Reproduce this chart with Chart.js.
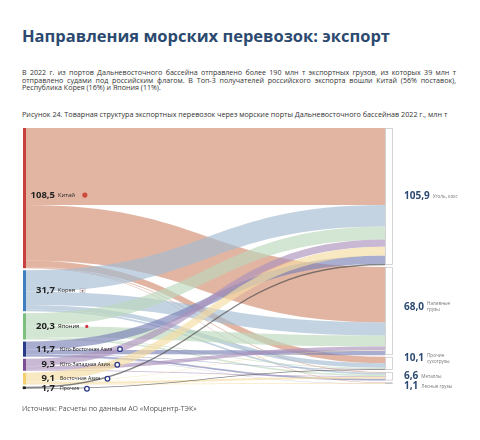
<!DOCTYPE html>
<html>
<head>
<meta charset="utf-8">
<script src="https://cdn.jsdelivr.net/npm/chart.js@4.4.0/dist/chart.umd.min.js"></script>
<style>
  body { margin: 0; width: 480px; height: 440px; background: #fff; font-family: "Open Sans", sans-serif; position: relative; overflow: hidden; }
  h1 { position: absolute; left: 22px; top: 24px; margin: 0; font-size: 16.5px; color: #2c4a70; font-weight: 700; white-space: nowrap; }
  .txt { position: absolute; left: 22px; width: 434px; font-size: 7.1px; line-height: 7.6px; color: #333; }
  .txt div { white-space: nowrap; }
  .txt .j { text-align: justify; text-align-last: justify; white-space: normal; }
  .cap { position: absolute; left: 22px; top: 109px; font-size: 7.2px; color: #333; white-space: nowrap; }
  .src { position: absolute; left: 22px; top: 404px; font-size: 7px; color: #555; white-space: nowrap; }
  canvas { position: absolute; left: 0; top: 0; }
</style>
</head>
<body>
<h1>Направления морских перевозок: экспорт</h1>
<div class="txt" style="top:69px">
  <div class="j">В 2022 г. из портов Дальневосточного бассейна отправлено более 190 млн т экспортных грузов, из которых 39 млн т</div>
  <div class="j">отправлено судами под российским флагом. В Топ-3 получателей российского экспорта вошли Китай (56% поставок),</div>
  <div>Республика Корея (16%) и Япония (11%).</div>
</div>
<div class="cap">Рисунок 24. Товарная структура экспортных перевозок через морские порты Дальневосточного бассейнав 2022 г., млн т</div>
<canvas id="sankey" width="480" height="440"></canvas>
<div class="src">Источник: Расчеты по данным АО «Морцентр-ТЭК»</div>

<script>
// countries (left side)
const sources = ['Китай', 'Корея', 'Япония', 'Юго-Восточная Азия', 'Юго-Западная Азия', 'Восточная Азия', 'Прочие'];
const sourceTotals = [108.5, 31.7, 20.3, 11.7, 9.3, 9.1, 1.7];

// cargo types (right side)
const targets = ['Уголь, кокс', 'Наливные грузы', 'Прочие сухогрузы', 'Металлы', 'Лесные грузы'];
const targetTotals = [105.9, 68.0, 10.1, 6.6, 1.1];

// flows, one value per country (same order as sources)
const toCoal     = [59.6, 16.7, 10.0, 6.3, 5.7, 6.7, 1.2];
const toLiquid   = [43.0, 10.1, 8.5, 3.5, 3.0, 0.2, 0];
const toOtherDry = [4.9, 3.5, 0.6, 0.3, 0, 0.3, 0.5];
const toMetals   = [0.6, 1.4, 1.2, 1.4, 0.6, 1.4, 0];
const toTimber   = [0.4, 0, 0, 0.2, 0, 0.5, 0];

const flows = [toCoal, toLiquid, toOtherDry, toMetals, toTimber];

// order in which countries stack up inside a cargo node
const arrivalOrder = [0, 1, 2, 4, 5, 3, 6];

const nodeColors = ['#c8413f', '#3f7fc0', '#7dbf7d', '#2b3a86', '#7b4f91', '#f3cf70', '#222'];
const flowColors = [
  'rgba(210,141,113,0.65)',
  'rgba(163,187,210,0.65)',
  'rgba(187,215,187,0.65)',
  'rgba(123,131,183,0.65)',
  'rgba(172,146,187,0.65)',
  'rgba(246,221,163,0.65)',
  'rgba(80,80,80,0.7)'
];
const GAP = 1.6;

function fmt(v) { return v.toFixed(1).replace('.', ','); }

function stackNodes(totals) {
  const starts = [];
  let acc = 0;
  totals.forEach(function(v) { starts.push(acc); acc += v + GAP; });
  return starts;
}

function drawIcon(ctx, i, x, y) {
  ctx.save();
  if (i === 0) {
    ctx.fillStyle = '#d04a3c';
    ctx.beginPath(); ctx.arc(x, y, 2.6, 0, Math.PI * 2); ctx.fill();
  } else if (i === 1) {
    ctx.fillStyle = '#fff'; ctx.strokeStyle = '#999'; ctx.lineWidth = 0.5;
    ctx.fillRect(x - 2.5, y - 1.8, 5, 3.6); ctx.strokeRect(x - 2.5, y - 1.8, 5, 3.6);
    ctx.fillStyle = '#c8413f';
    ctx.beginPath(); ctx.arc(x, y, 1, Math.PI, 0); ctx.fill();
    ctx.fillStyle = '#3f5fa0';
    ctx.beginPath(); ctx.arc(x, y, 1, 0, Math.PI); ctx.fill();
  } else if (i === 2) {
    ctx.fillStyle = '#d0303a';
    ctx.beginPath(); ctx.arc(x, y, 1.6, 0, Math.PI * 2); ctx.fill();
  } else {
    ctx.strokeStyle = '#2b3a86'; ctx.lineWidth = 1.3; ctx.fillStyle = '#fff';
    ctx.beginPath(); ctx.arc(x, y, 2.3, 0, Math.PI * 2); ctx.fill(); ctx.stroke();
  }
  ctx.restore();
}

const sankeyPlugin = {
  id: 'sankey',
  beforeDatasetsDraw(chart) {
    const ctx = chart.ctx;
    const x = chart.scales.x, y = chart.scales.y;
    const xL = x.getPixelForValue(0), xR = x.getPixelForValue(1);
    const x0 = xL + 2;
    const srcStart = stackNodes(sourceTotals);
    const tgtStart = stackNodes(targetTotals);

    // where each flow leaves its country and enters its cargo node
    const srcOff = srcStart.slice();
    const tgtOff = tgtStart.slice();
    const from = sources.map(function() { return []; });
    const to = sources.map(function() { return []; });
    sources.forEach(function(s, i) {
      flows.forEach(function(f, t) { from[i][t] = srcOff[i]; srcOff[i] += f[i]; });
    });
    flows.forEach(function(f, t) {
      arrivalOrder.forEach(function(i) { to[i][t] = tgtOff[t]; tgtOff[t] += f[i]; });
    });

    ctx.save();
    const xm = (x0 + xR) / 2;
    sources.forEach(function(s, i) {
      flows.forEach(function(f, t) {
        const v = f[i];
        if (!v) return;
        const a0 = y.getPixelForValue(from[i][t]), a1 = y.getPixelForValue(from[i][t] + v);
        const b0 = y.getPixelForValue(to[i][t]), b1 = y.getPixelForValue(to[i][t] + v);
        ctx.fillStyle = flowColors[i];
        ctx.beginPath();
        ctx.moveTo(x0, a0);
        ctx.bezierCurveTo(xm, a0, xm, b0, xR, b0);
        ctx.lineTo(xR, b1);
        ctx.bezierCurveTo(xm, b1, xm, a1, x0, a1);
        ctx.closePath();
        ctx.fill();
      });
    });

    // country bars
    sources.forEach(function(s, i) {
      const top = y.getPixelForValue(srcStart[i]);
      const bot = y.getPixelForValue(srcStart[i] + sourceTotals[i]);
      ctx.fillStyle = nodeColors[i];
      ctx.fillRect(xL - 1, top, 3, bot - top);
    });
    const oy = y.getPixelForValue(srcStart[6] + sourceTotals[6] / 2);
    ctx.fillStyle = '#222';
    ctx.beginPath(); ctx.arc(xL, oy, 1.5, 0, Math.PI * 2); ctx.fill();

    // cargo boxes
    targets.forEach(function(t, j) {
      const top = y.getPixelForValue(tgtStart[j]);
      const bot = y.getPixelForValue(tgtStart[j] + targetTotals[j]);
      ctx.fillStyle = j === 4 ? '#c4c4c4' : '#fff';
      ctx.fillRect(xR, top, 7, bot - top);
      ctx.strokeStyle = '#c9c9c9'; ctx.lineWidth = 0.8;
      ctx.strokeRect(xR + 0.4, top + 0.4, 7, bot - top - 0.8);
    });

    // country labels
    ctx.textBaseline = 'middle';
    sources.forEach(function(s, i) {
      const cy = y.getPixelForValue(srcStart[i] + sourceTotals[i] / 2) + (i === 6 ? 1 : 0) - (i === 0 ? 3 : 0);
      ctx.font = 'bold 9.5px "Open Sans"';
      ctx.fillStyle = '#222';
      ctx.textAlign = 'right';
      ctx.fillText(fmt(sourceTotals[i]), xL + 31, cy);
      ctx.font = (i < 3 ? 5.8 : 5.2) + 'px "Open Sans"';
      ctx.textAlign = 'left';
      const lx = xL + 34 + (i < 3 ? 0 : 2);
      ctx.fillText(s, lx, cy);
      const w = ctx.measureText(s).width;
      drawIcon(ctx, i, lx + w + (i === 0 ? 10 : 7.5), cy);
    });

    // cargo labels
    let lastY = -100;
    targets.forEach(function(t, j) {
      let cy = y.getPixelForValue(tgtStart[j] + targetTotals[j] / 2) - (j === 1 ? 4 : j === 2 ? 5 : 0);
      if (cy < lastY + 10) cy = lastY + 10;
      lastY = cy;
      const nx = xR + 19;
      ctx.font = 'bold 10px "Open Sans"';
      ctx.fillStyle = '#2c4a70';
      ctx.textAlign = 'left';
      const num = fmt(targetTotals[j]);
      ctx.fillText(num, nx, cy);
      const w = ctx.measureText(num).width;
      ctx.font = '4.6px "Open Sans"';
      ctx.fillStyle = '#777';
      const parts = t.split(' ');
      if (j === 1 || j === 2) {
        ctx.fillText(parts[0], nx + w + 3, cy - 3);
        ctx.fillText(parts[1], nx + w + 3, cy + 3);
      } else {
        ctx.fillText(t, nx + w + 3, cy + 0.5);
      }
    });
    ctx.restore();
  }
};

new Chart(document.getElementById('sankey'), {
  type: 'scatter',
  data: { datasets: [{ data: [] }] },
  options: {
    responsive: false,
    animation: false,
    layout: { padding: { left: 24, right: 95, top: 128, bottom: 51 } },
    plugins: { legend: { display: false }, tooltip: { enabled: false } },
    scales: {
      x: { type: 'linear', min: 0, max: 1, display: false },
      y: { type: 'linear', min: 0, max: 202, reverse: true, display: false }
    }
  },
  plugins: [sankeyPlugin]
});
</script>
</body>
</html>
